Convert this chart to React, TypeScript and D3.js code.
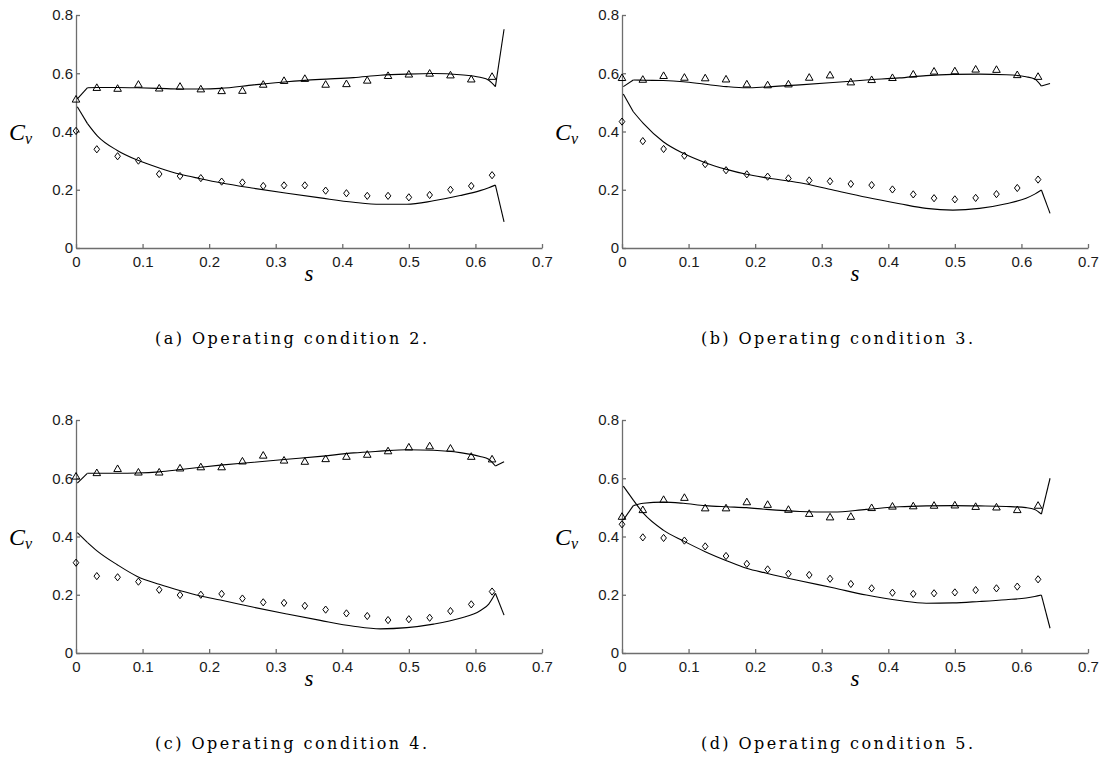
import React, { useEffect, useRef } from "react";
import * as d3 from "d3";

// measurement stations along s (same for every operating condition)
const sPoints = [
  0, 0.03125, 0.0625, 0.09375, 0.125, 0.15625, 0.1875, 0.21875, 0.25, 0.28125,
  0.3125, 0.34375, 0.375, 0.40625, 0.4375, 0.46875, 0.5, 0.53125, 0.5625,
  0.59375, 0.625,
];
// s grid the simulated curves were read at
const sCurve = [
  0.002, 0.017, 0.032, 0.062, 0.092, 0.125, 0.157, 0.187, 0.217, 0.267, 0.317,
  0.367, 0.417, 0.457, 0.497, 0.537, 0.577, 0.607, 0.62, 0.63, 0.643,
];

// condition 2
const triA = [0.512, 0.552, 0.549, 0.563, 0.55, 0.556, 0.547, 0.541, 0.542, 0.563, 0.576, 0.583, 0.563, 0.565, 0.577, 0.593, 0.598, 0.601, 0.595, 0.581, 0.59];
const diaA = [0.402, 0.339, 0.315, 0.3, 0.254, 0.247, 0.24, 0.228, 0.225, 0.213, 0.215, 0.215, 0.197, 0.188, 0.179, 0.179, 0.174, 0.182, 0.2, 0.213, 0.25];
const upA = [0.512, 0.55, 0.551, 0.551, 0.55, 0.548, 0.546, 0.546, 0.548, 0.56, 0.571, 0.579, 0.585, 0.593, 0.597, 0.599, 0.595, 0.586, 0.576, 0.554, 0.751];
const loA = [0.485, 0.428, 0.385, 0.335, 0.302, 0.275, 0.253, 0.238, 0.224, 0.205, 0.188, 0.172, 0.157, 0.15, 0.15, 0.162, 0.18, 0.197, 0.207, 0.216, 0.09];

// condition 3
const triB = [0.586, 0.58, 0.593, 0.587, 0.585, 0.581, 0.564, 0.561, 0.564, 0.587, 0.595, 0.571, 0.579, 0.586, 0.598, 0.608, 0.609, 0.615, 0.614, 0.596, 0.59];
const diaB = [0.434, 0.367, 0.34, 0.317, 0.288, 0.267, 0.253, 0.245, 0.239, 0.232, 0.229, 0.22, 0.216, 0.201, 0.184, 0.171, 0.167, 0.172, 0.185, 0.206, 0.235];
const upB = [0.554, 0.577, 0.576, 0.575, 0.571, 0.562, 0.554, 0.55, 0.553, 0.56, 0.568, 0.577, 0.584, 0.592, 0.596, 0.597, 0.595, 0.588, 0.58, 0.556, 0.565];
const loB = [0.529, 0.468, 0.428, 0.365, 0.325, 0.293, 0.27, 0.253, 0.241, 0.224, 0.199, 0.174, 0.152, 0.136, 0.13, 0.136, 0.152, 0.171, 0.185, 0.199, 0.119];

// condition 4
const triC = [0.608, 0.62, 0.634, 0.622, 0.622, 0.636, 0.64, 0.64, 0.66, 0.68, 0.663, 0.659, 0.668, 0.676, 0.683, 0.695, 0.708, 0.712, 0.704, 0.676, 0.667];
const diaC = [0.31, 0.264, 0.26, 0.245, 0.217, 0.199, 0.2, 0.203, 0.187, 0.174, 0.172, 0.162, 0.149, 0.136, 0.127, 0.113, 0.116, 0.121, 0.144, 0.167, 0.211];
const upC = [0.583, 0.617, 0.617, 0.617, 0.618, 0.622, 0.63, 0.638, 0.645, 0.655, 0.665, 0.675, 0.687, 0.693, 0.698, 0.696, 0.688, 0.675, 0.665, 0.642, 0.657];
const loC = [0.413, 0.38, 0.35, 0.303, 0.263, 0.236, 0.214, 0.196, 0.182, 0.157, 0.134, 0.112, 0.092, 0.083, 0.087, 0.099, 0.119, 0.145, 0.168, 0.205, 0.13];

// condition 5
const triD = [0.47, 0.493, 0.528, 0.535, 0.499, 0.499, 0.52, 0.511, 0.494, 0.48, 0.468, 0.47, 0.5, 0.505, 0.506, 0.508, 0.509, 0.504, 0.502, 0.493, 0.508];
const diaD = [0.442, 0.397, 0.395, 0.386, 0.366, 0.333, 0.306, 0.287, 0.272, 0.268, 0.255, 0.237, 0.222, 0.207, 0.203, 0.205, 0.208, 0.216, 0.222, 0.228, 0.253];
const upD = [0.457, 0.506, 0.514, 0.518, 0.514, 0.506, 0.502, 0.499, 0.493, 0.486, 0.484, 0.493, 0.502, 0.505, 0.506, 0.505, 0.503, 0.499, 0.493, 0.477, 0.6];
const loD = [0.573, 0.525, 0.48, 0.422, 0.385, 0.348, 0.317, 0.291, 0.274, 0.248, 0.224, 0.199, 0.18, 0.171, 0.172, 0.177, 0.183, 0.189, 0.194, 0.199, 0.085];

const xTicks = [0, 0.1, 0.2, 0.3, 0.4, 0.5, 0.6, 0.7];
const yTicks = [0, 0.2, 0.4, 0.6, 0.8];
const captions = [
  "(a) Operating condition 2.",
  "(b) Operating condition 3.",
  "(c) Operating condition 4.",
  "(d) Operating condition 5.",
];

const panels = [
  { tri: triA, dia: diaA, up: upA, lo: loA, left: 76, top: 15 },
  { tri: triB, dia: diaB, up: upB, lo: loB, left: 622, top: 15 },
  { tri: triC, dia: diaC, up: upC, lo: loC, left: 76, top: 420 },
  { tri: triD, dia: diaD, up: upD, lo: loD, left: 622, top: 420 },
];

const W = 466;
const H = 233;
const axisGray = "#6e6e6e";
const sans = "'Liberation Sans', Arial, sans-serif";
const serif = "'Liberation Serif', 'Times New Roman', serif";

export default function App() {
  const svgRef = useRef<SVGSVGElement>(null);

  useEffect(() => {
    const svg = d3.select(svgRef.current);
    svg.selectAll("*").remove();

    panels.forEach((p, i) => {
      const x = d3.scaleLinear().domain([0, 0.7]).range([0, W]);
      const y = d3.scaleLinear().domain([0, 0.8]).range([H, 0]);
      const g = svg.append("g").attr("transform", `translate(${p.left},${p.top})`);

      // axes, MATLAB style ticks pointing in
      const ya = g
        .append("g")
        .call(
          d3.axisLeft(y).tickValues(yTicks).tickFormat(d3.format("~g")).tickSizeInner(-4).tickSizeOuter(0).tickPadding(3)
        );
      const xa = g
        .append("g")
        .attr("transform", `translate(0,${H})`)
        .call(
          d3.axisBottom(x).tickValues(xTicks).tickFormat(d3.format("~g")).tickSizeInner(-4).tickSizeOuter(0).tickPadding(8)
        );
      [ya, xa].forEach((a) => {
        a.selectAll("path,line").attr("stroke", axisGray).attr("stroke-width", 1.3);
        a.selectAll("text").attr("fill", "#1a1a1a").style("font-family", sans).style("font-size", "15px");
      });

      // smooth body, straight first and last segments (sharp kinks at the ends)
      const smooth = d3
        .line<[number, number]>()
        .x((d) => x(d[0]))
        .y((d) => y(d[1]))
        .curve(d3.curveMonotoneX);
      const straight = d3
        .line<[number, number]>()
        .x((d) => x(d[0]))
        .y((d) => y(d[1]));
      [p.up, p.lo].forEach((ser) => {
        const pts: [number, number][] = ser.map((v, k) => [sCurve[k], v]);
        const n = pts.length;
        [
          { gen: straight, seg: pts.slice(0, 2) },
          { gen: smooth, seg: pts.slice(1, n - 1) },
          { gen: straight, seg: pts.slice(n - 2) },
        ].forEach(({ gen, seg }) => {
          g.append("path")
            .attr("d", gen(seg))
            .attr("fill", "none")
            .attr("stroke", "#000")
            .attr("stroke-width", 1.1)
            .attr("stroke-linejoin", "miter");
        });
      });

      // triangles (experiment, upper)
      g.selectAll(".tri")
        .data(p.tri)
        .join("path")
        .attr("d", (d, k) => {
          const cx = x(sPoints[k]);
          const cy = y(d);
          return `M${cx - 3.8},${cy + 3.2}L${cx + 3.8},${cy + 3.2}L${cx},${cy - 3.4}Z`;
        })
        .attr("fill", "none")
        .attr("stroke", "#000")
        .attr("stroke-width", 1);

      // diamonds (experiment, lower)
      g.selectAll(".dia")
        .data(p.dia)
        .join("path")
        .attr("d", (d, k) => {
          const cx = x(sPoints[k]);
          const cy = y(d);
          return `M${cx},${cy - 3.6}L${cx + 2.8},${cy}L${cx},${cy + 3.6}L${cx - 2.8},${cy}Z`;
        })
        .attr("fill", "none")
        .attr("stroke", "#000")
        .attr("stroke-width", 1);

      // C_v label
      const cv = svg
        .append("text")
        .attr("x", p.left - 67)
        .attr("y", p.top + 125)
        .style("font-family", serif)
        .style("font-style", "italic")
        .style("font-size", "24px")
        .text("C");
      cv.append("tspan").attr("dy", 4).style("font-size", "16px").text("v");

      // s label
      svg
        .append("text")
        .attr("x", p.left + W / 2)
        .attr("y", p.top + H + 33)
        .attr("text-anchor", "middle")
        .style("font-family", serif)
        .style("font-style", "italic")
        .style("font-size", "23px")
        .text("s");

      // caption
      svg
        .append("text")
        .attr("x", p.left + 79)
        .attr("y", p.top + 329)
        .attr("textLength", 272)
        .attr("lengthAdjust", "spacing")
        .style("font-family", "'DejaVu Serif', serif")
        .style("font-size", "16px")
        .attr("fill", "#000")
        .text(captions[i]);
    });
  }, []);

  return (
    <svg
      ref={svgRef}
      width={1104}
      height={761}
      style={{ position: "absolute", left: 0, top: 0, background: "#fff" }}
    ></svg>
  );
}
